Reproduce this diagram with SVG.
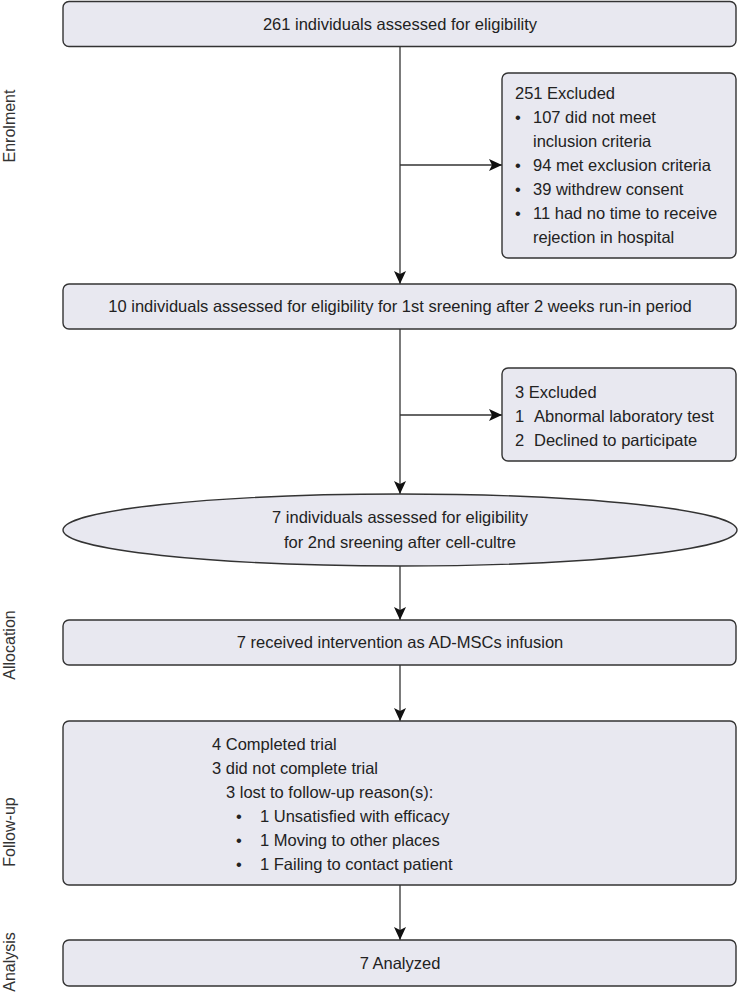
<svg xmlns="http://www.w3.org/2000/svg" width="738" height="994" viewBox="0 0 738 994">
<style>
.box{fill:#e8e8f0;stroke:#333;stroke-width:1.4}
.t{font-family:"Liberation Sans",Arial,sans-serif;font-size:16.5px;fill:#222}
.c{text-anchor:middle}
.lab{font-family:"Liberation Sans",Arial,sans-serif;font-size:16px;fill:#333;text-anchor:middle}
.ln{stroke:#333;stroke-width:1.3;fill:none}
</style>
<defs>
<marker id="ah" markerWidth="14" markerHeight="12" refX="13" refY="6" orient="auto" markerUnits="userSpaceOnUse">
<path d="M0,0 L13,6 L0,12 L3,6 Z" fill="#111"/>
</marker>
</defs>
<rect width="738" height="994" fill="#fff"/>
<g id="labels">
<text class="lab" transform="translate(15,126) rotate(-90)">Enrolment</text>
<text class="lab" transform="translate(15,645) rotate(-90)">Allocation</text>
<text class="lab" transform="translate(15,832) rotate(-90)">Follow-up</text>
<text class="lab" transform="translate(15,962) rotate(-90)">Analysis</text>
</g>
<g id="connectors">
<line class="ln" x1="400" y1="47" x2="400" y2="284" marker-end="url(#ah)"/>
<line class="ln" x1="400" y1="165" x2="502" y2="165" marker-end="url(#ah)"/>
<line class="ln" x1="400" y1="329" x2="400" y2="494" marker-end="url(#ah)"/>
<line class="ln" x1="400" y1="415" x2="502" y2="415" marker-end="url(#ah)"/>
<line class="ln" x1="400" y1="566" x2="400" y2="620" marker-end="url(#ah)"/>
<line class="ln" x1="400" y1="665" x2="400" y2="721" marker-end="url(#ah)"/>
<line class="ln" x1="400" y1="885" x2="400" y2="940" marker-end="url(#ah)"/>
</g>
<g id="n1">
<rect class="box" x="63" y="1.5" width="673" height="45" rx="6"/>
<text class="t c" x="400" y="30">261 individuals assessed for eligibility</text>
</g>
<g id="n2">
<rect class="box" x="502" y="73" width="234" height="185" rx="6"/>
<text class="t" x="515" y="99">251 Excluded</text>
<text class="t" x="515" y="123">•</text><text class="t" x="533" y="123">107 did not meet</text>
<text class="t" x="533" y="147">inclusion criteria</text>
<text class="t" x="515" y="171">•</text><text class="t" x="533" y="171">94 met exclusion criteria</text>
<text class="t" x="515" y="195">•</text><text class="t" x="533" y="195">39 withdrew consent</text>
<text class="t" x="515" y="219">•</text><text class="t" x="533" y="219">11 had no time to receive</text>
<text class="t" x="533" y="243">rejection in hospital</text>
</g>
<g id="n3">
<rect class="box" x="63" y="284" width="673" height="45" rx="6"/>
<text class="t c" x="400" y="312">10 individuals assessed for eligibility for 1st sreening after 2 weeks run-in period</text>
</g>
<g id="n4">
<rect class="box" x="502" y="368" width="234" height="93" rx="6"/>
<text class="t" x="515" y="398">3 Excluded</text>
<text class="t" x="515" y="422">1</text><text class="t" x="534" y="422">Abnormal laboratory test</text>
<text class="t" x="515" y="446">2</text><text class="t" x="534" y="446">Declined to participate</text>
</g>
<g id="n5">
<ellipse class="box" cx="400" cy="530" rx="337" ry="36"/>
<text class="t c" x="400" y="523">7 individuals assessed for eligibility</text>
<text class="t c" x="400" y="548">for 2nd sreening after cell-cultre</text>
</g>
<g id="n6">
<rect class="box" x="63" y="620" width="673" height="45" rx="6"/>
<text class="t c" x="400" y="648">7 received intervention as AD-MSCs infusion</text>
</g>
<g id="n7">
<rect class="box" x="63" y="721" width="673" height="164" rx="6"/>
<text class="t" x="212" y="750">4 Completed trial</text>
<text class="t" x="212" y="774">3 did not complete trial</text>
<text class="t" x="226" y="798">3 lost to follow-up reason(s):</text>
<text class="t" x="236" y="822">•</text><text class="t" x="260" y="822">1 Unsatisfied with efficacy</text>
<text class="t" x="236" y="846">•</text><text class="t" x="260" y="846">1 Moving to other places</text>
<text class="t" x="236" y="870">•</text><text class="t" x="260" y="870">1 Failing to contact patient</text>
</g>
<g id="n8">
<rect class="box" x="63" y="940" width="673" height="46" rx="6"/>
<text class="t c" x="400" y="969">7 Analyzed</text>
</g>
</svg>
